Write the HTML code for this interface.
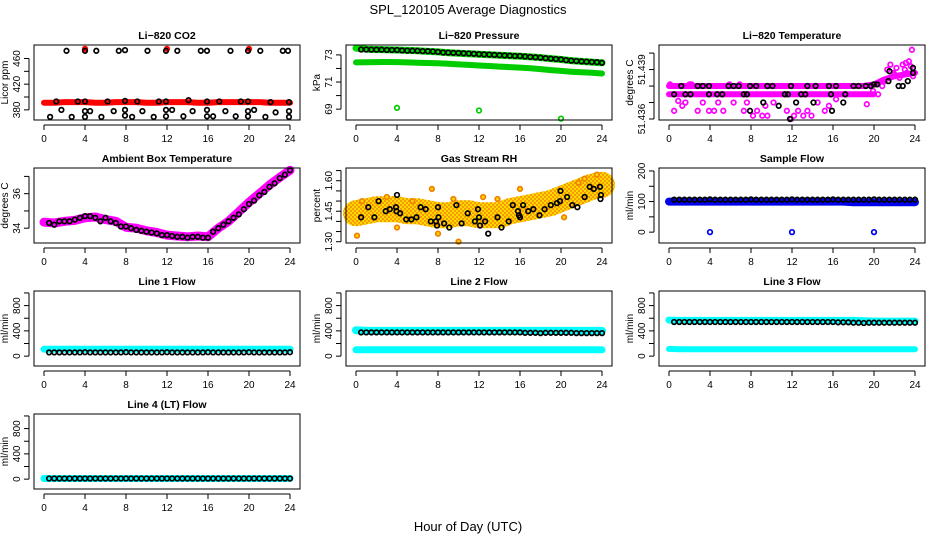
<!DOCTYPE html>
<html><head><meta charset="utf-8">
<style>
html,body{margin:0;padding:0;background:#fff;}
svg{display:block;font-family:"Liberation Sans",sans-serif;}
</style></head>
<body>
<svg id="chart" width="936" height="540" viewBox="0 0 936 540" xmlns="http://www.w3.org/2000/svg">
<defs>
<pattern id="rhpat" width="4" height="4" patternUnits="userSpaceOnUse">
<rect width="4" height="4" fill="#ffd800"/><circle cx="1" cy="1" r="0.9" fill="#f07000"/><circle cx="3" cy="3" r="0.9" fill="#f07000"/>
</pattern>
</defs>
<text x="468" y="14" font-size="13" text-anchor="middle">SPL_120105  Average Diagnostics</text>
<text x="468" y="531" font-size="13" text-anchor="middle">Hour of Day (UTC)</text>
</svg>
<script>
const hourT=[0,1,2,3,4,5,6,7,8,9,10,11,12,13,14,15,16,17,18,19,20,21,22,23,24];
const halfT=[0.5,1,1.5,2,2.5,3,3.5,4,4.5,5,5.5,6,6.5,7,7.5,8,8.5,9,9.5,10,10.5,11,11.5,12,12.5,13,13.5,14,14.5,15,15.5,16,16.5,17,17.5,18,18.5,19,19.5,20,20.5,21,21.5,22,22.5,23,23.5,24];
const xTicks=[0,4,8,12,16,20,24];

// CO2
const co2Band=[391,391,392,392,392,391,391,392,392,392,391,391,392,392,392,391,391,392,392,392,392,392,391,391,391];
const co2RedT=[4,12,20];
const co2RedV=[475,475,475];
const co2BlkT=[2.2,4,5.1,7.3,7.9,10.1,11.9,13,15.3,15.9,18.2,19.9,21.1,23.3,23.8,
1.2,3.3,4,6.2,7.9,9.1,11.2,11.9,14.1,15.9,17.1,19.2,19.9,22.1,23.9,
1.7,4,4.5,6.8,7.9,9.6,11.9,12.5,14.5,15.9,17.7,19.9,20.5,22.6,23.9,
0.6,2.7,4,5.6,7.9,8.6,10.7,11.9,13.6,15.9,16.5,18.7,19.9,21.6,23.9];
const co2BlkV=[472,472,472,472,473,472,472,472,472,472,472,472,472,472,472,
393,393,393,393,394,393,393,393,395,393,393,393,393,392,392,
380,378,378,378,380,378,380,380,378,380,378,378,380,376,378,
369,369,369,369,371,369,369,370,370,370,370,370,370,369,369];

// Pressure
const presGreenUp=[73.5,73.42,73.40,73.38,73.36,73.33,73.30,73.26,73.22,73.16,73.12,73.09,73.05,73.01,72.97,72.93,72.90,72.85,72.80,72.73,72.66,72.58,72.52,72.47,72.42];
const presGreenLow=[72.45,72.46,72.47,72.48,72.47,72.45,72.42,72.40,72.38,72.35,72.30,72.26,72.22,72.18,72.14,72.10,72.06,72.02,71.95,71.88,71.82,71.76,71.72,71.68,71.63];
const presBlk=[73.40,73.40,73.39,73.38,73.38,73.37,73.36,73.36,73.33,73.32,73.31,73.30,73.28,73.27,73.25,73.22,73.18,73.17,73.15,73.14,73.12,73.10,73.08,73.06,73.04,73.02,73.00,72.98,72.96,72.94,72.92,72.92,72.88,72.85,72.82,72.80,72.76,72.73,72.70,72.67,72.62,72.58,72.55,72.52,72.50,72.48,72.46,72.42];
const presOutT=[4,12,20];
const presOutV=[69.1,68.9,68.3];

// Li-820 temperature
const tempBand1=[51.438,51.438,51.438,51.438,51.438,51.438,51.438,51.438,51.438,51.438,51.438,51.438,51.438,51.438,51.438,51.438,51.438,51.438,51.438,51.438,51.4381,51.4384,51.4386,51.4387,51.4388];
const tempBand2T=[0,2,4,6,8,10,12,14,16,18,20];
const tempBand2V=[51.4375,51.4375,51.4375,51.4375,51.4375,51.4375,51.4375,51.4375,51.4375,51.4375,51.4375];
const tempMagT=[0.1,0.5,0.9,1.3,1.6,2.0,2.2,2.8,3.3,3.9,4.4,4.8,5.3,5.9,6.3,6.9,7.3,7.6,8.2,8.6,9.1,9.4,9.6,10.2,11.5,11.9,12.2,12.6,13.1,13.5,13.9,14.5,15.2,15.6,16.3,17.2,19.3,19.9,20.4,21.0,21.3,21.6,21.9,22.2,22.5,22.8,23.0,23.2,23.4,23.6,23.7,23.8,20.8,22.0,23.1];
const tempMagV=[51.4381,51.4365,51.4371,51.4368,51.4370,51.4381,51.4381,51.4365,51.4370,51.4365,51.4365,51.4370,51.4365,51.4381,51.4370,51.4381,51.4365,51.4370,51.4362,51.4365,51.4362,51.4368,51.4362,51.4370,51.4365,51.4360,51.4362,51.4365,51.4362,51.4365,51.4362,51.4370,51.4365,51.4368,51.4372,51.4375,51.4369,51.4377,51.4375,51.4383,51.4390,51.4393,51.4388,51.4391,51.4385,51.4393,51.4390,51.4388,51.4395,51.4392,51.4402,51.4386,51.4380,51.4387,51.4394];
const tempBlkT=[1.2,2.8,3.3,3.9,5.8,6.3,6.8,7.9,8.5,9.6,10.1,11.9,13.5,14.3,15.6,16.3,18.0,18.5,19.2,19.7,20.3,21.4,22.4,22.8,23.8,0.5,1.6,2.1,3.9,4.7,5.2,7.3,7.6,11.3,11.6,12.9,13.3,15.8,17.2,9.2,12.4,14.1,17.0,7.9,15.9,10.7,11.8,21.5,23.3,23.8,20.0];
const tempBlkV=[51.438,51.438,51.438,51.438,51.438,51.438,51.438,51.438,51.438,51.438,51.438,51.438,51.438,51.438,51.438,51.438,51.438,51.438,51.438,51.438,51.4381,51.4383,51.438,51.438,51.4388,51.4375,51.4375,51.4375,51.4375,51.4375,51.4375,51.4375,51.4375,51.4375,51.4375,51.4375,51.4375,51.4375,51.4375,51.437,51.437,51.437,51.437,51.4365,51.4365,51.4368,51.4360,51.4389,51.4383,51.4391,51.4381];

// Ambient box temperature
const ambBand=[34.35,34.3,34.4,34.45,34.6,34.65,34.5,34.4,34.05,34.0,33.85,33.75,33.6,33.55,33.5,33.55,33.5,34.0,34.4,34.95,35.5,36.0,36.5,36.95,37.35];
const ambBlk=[34.3,34.2,34.4,34.4,34.4,34.5,34.6,34.7,34.7,34.6,34.4,34.6,34.4,34.3,34.1,34.1,34.0,33.9,33.85,33.8,33.75,33.7,33.6,33.6,33.55,33.5,33.5,33.45,33.5,33.5,33.45,33.45,33.8,34.0,34.2,34.4,34.6,34.8,35.1,35.4,35.6,35.9,36.1,36.4,36.6,36.9,37.1,37.35];

// Gas stream RH
const rhBand=[1.44,1.45,1.46,1.46,1.46,1.45,1.45,1.44,1.43,1.43,1.44,1.44,1.43,1.43,1.43,1.45,1.46,1.47,1.48,1.49,1.51,1.53,1.55,1.57,1.58];
const rhOrgT=[0.1,4.0,7.4,8.0,10.0,12.4,16.0,20.3,21.7,22.3,23.5,0.6,3.0,5.5,9.5,13.8];
const rhOrgV=[1.33,1.37,1.56,1.34,1.30,1.52,1.56,1.42,1.59,1.61,1.63,1.50,1.52,1.50,1.51,1.51];
const rhBlkT=[0.5,1.2,1.8,2.2,2.9,3.3,3.9,4.0,3.95,4.3,4.9,5.4,5.9,6.3,6.8,7.3,7.8,8.0,8.05,7.9,8.6,9.1,9.8,10.3,10.9,11.6,11.9,12.0,12.1,12.6,12.9,13.8,14.2,14.9,15.3,15.8,15.9,16.0,16.3,16.8,17.3,17.9,18.4,19.0,19.6,19.9,19.95,20.6,21.1,21.6,22.3,22.8,23.2,23.8,23.85,23.9];
const rhBlkV=[1.42,1.47,1.42,1.50,1.45,1.46,1.47,1.53,1.45,1.44,1.41,1.41,1.42,1.47,1.46,1.40,1.40,1.47,1.42,1.38,1.39,1.37,1.48,1.39,1.44,1.40,1.46,1.42,1.38,1.40,1.34,1.42,1.37,1.40,1.48,1.45,1.43,1.42,1.48,1.45,1.46,1.43,1.46,1.48,1.49,1.50,1.55,1.52,1.48,1.47,1.52,1.57,1.56,1.57,1.51,1.53];

// Sample flow
const sfBand=[100,100,100,100,100,100,100,100,100,100,100,100,100,100,100,100,100,100,98,98,98,98,98,98,98];
const sfOutT=[4,12,20];
const sfOutV=[0,0,0];
const sfBlk=[106,106,106,106,106,106,106,107,106,106,106,106,106,106,106,107,106,106,106,106,106,106,106,107,106,106,106,106,106,106,106,107,106,106,106,106,106,106,106,107,106,106,106,106,106,106,106,106];

// Line flows
const l1Cyan=[110,110,110,110,110,110,110,110,110,110,110,110,110,110,110,110,110,110,110,110,110,110,110,110,110];
const l1Blk=[60,60,60,60,60,60,60,62,60,60,60,60,60,60,60,62,60,60,60,60,60,60,60,62,60,60,60,60,60,60,60,62,60,60,60,60,60,60,60,62,60,60,60,60,60,60,60,62];
const l2CyanUp=[410,400,400,400,400,400,400,400,400,400,400,400,400,400,400,400,400,400,400,400,400,400,400,400,400];
const l2CyanLow=[100,100,100,100,100,100,100,100,100,100,100,100,100,100,100,100,100,100,100,100,100,100,100,100,100];
const l2Blk=[375,375,375,375,375,375,375,375,375,375,375,375,375,375,375,375,375,375,375,375,375,375,375,375,375,375,375,375,375,375,375,375,370,370,370,365,370,370,370,370,370,370,365,365,365,365,365,365];
const l3CyanUp=[570,565,565,565,565,565,565,565,565,565,565,565,565,565,565,565,565,565,565,560,555,555,555,555,555];
const l3CyanLow=[115,110,110,110,110,110,110,110,110,110,110,110,110,110,110,110,110,110,110,110,110,110,110,110,110];
const l3Blk=[540,540,540,540,540,540,540,540,540,540,540,540,540,540,540,540,540,540,540,540,540,540,540,540,540,540,540,540,540,540,540,540,535,535,535,530,530,525,530,530,530,530,530,530,530,530,530,530];
const l4Cyan=[10,10,10,10,10,10,10,10,10,10,10,10,10,10,10,10,10,10,10,10,10,10,10,10,10];
const l4Blk=[10,10,10,10,10,10,10,10,10,10,10,10,10,10,10,10,10,10,10,10,10,10,10,10,10,10,10,10,10,10,10,10,10,10,10,10,10,10,10,10,10,10,10,10,10,10,10,10];

const flowTicks=[0,200,400,600,800,1000];
const flowLabels=[0,400,800];

const svg=document.getElementById('chart');
const NS='http://www.w3.org/2000/svg';
const COLS=[34,346,659], BW=266, BH=75;
function mk(tag,attrs,parent){const e=document.createElementNS(NS,tag);for(const k in attrs)e.setAttribute(k,attrs[k]);(parent||svg).appendChild(e);return e;}

const panels=[
 {name:'co2',title:'Li\u2212820 CO2',c:0,r:0,y0:364.2,y1:481,ylab:'Licor ppm',ticks:[380,400,420,440,460],labels:[380,420,460],fmt:v=>String(v),series:[
  {k:'band',t:hourT,v:co2Band,col:'#ff0000',w:6},
  {k:'pts',t:co2RedT,v:co2RedV,col:'#ff0000',fill:'#ff0000'},
  {k:'pts',t:co2BlkT,v:co2BlkV,col:'#000'}]},
 {name:'pressure',title:'Li\u2212820 Pressure',c:1,r:0,y0:68.2,y1:73.73,ylab:'kPa',ticks:[69,70,71,72,73],labels:[69,71,73],fmt:v=>String(v),series:[
  {k:'band',t:hourT,v:presGreenUp,col:'#00dd00',w:7},
  {k:'band',t:hourT,v:presGreenLow,col:'#00cc00',w:6},
  {k:'pts',t:halfT,v:presBlk,col:'#000'},
  {k:'pts',t:presOutT,v:presOutV,col:'#00cc00'}]},
 {name:'li820-temp',title:'Li\u2212820 Temperature',c:2,r:0,y0:51.43594,y1:51.44049,ylab:'degrees C',ticks:[51.436,51.437,51.438,51.439,51.440],labels:[51.436,51.439],fmt:v=>v.toFixed(3),series:[
  {k:'band',t:hourT,v:tempBand1,col:'#ff00ff',w:6},
  {k:'band',t:tempBand2T,v:tempBand2V,col:'#ff00ff',w:6},
  {k:'pts',t:tempMagT,v:tempMagV,col:'#ff00ff'},
  {k:'pts',t:tempBlkT,v:tempBlkV,col:'#000'}]},
 {name:'ambient-temp',title:'Ambient Box Temperature',c:0,r:1,y0:33.143,y1:37.486,ylab:'degrees C',ticks:[34,35,36,37],labels:[34,36],fmt:v=>String(v),series:[
  {k:'band',t:hourT,v:ambBand,col:'#ff00ff',w:9},
  {k:'pts',t:halfT,v:ambBlk,col:'#000'}]},
 {name:'gas-rh',title:'Gas Stream RH',c:1,r:1,y0:1.2937,y1:1.6626,ylab:'percent',ticks:[1.30,1.35,1.40,1.45,1.50,1.55,1.60,1.65],labels:[1.30,1.45,1.60],fmt:v=>v.toFixed(2),series:[
  {k:'band',t:hourT,v:rhBand,col:'url(#rhpat)',w:26},
  {k:'pts',t:rhOrgT,v:rhOrgV,col:'#f08000',fill:'#ffd800'},
  {k:'pts',t:rhBlkT,v:rhBlkV,col:'#000'}]},
 {name:'sample-flow',title:'Sample Flow',c:2,r:1,y0:-35.5,y1:209.7,ylab:'ml/min',ticks:[0,50,100,150,200],labels:[0,100,200],fmt:v=>String(v),series:[
  {k:'band',t:hourT,v:sfBand,col:'#0000ee',w:8},
  {k:'pts',t:sfOutT,v:sfOutV,col:'#0000ee'},
  {k:'pts',t:halfT,v:sfBlk,col:'#000'}]},
 {name:'line1-flow',title:'Line 1 Flow',c:0,r:2,y0:-156,y1:1031,ylab:'ml/min',ticks:flowTicks,labels:flowLabels,fmt:v=>String(v),series:[
  {k:'band',t:hourT,v:l1Cyan,col:'#00ffff',w:7},
  {k:'pts',t:halfT,v:l1Blk,col:'#000'}]},
 {name:'line2-flow',title:'Line 2 Flow',c:1,r:2,y0:-156,y1:1031,ylab:'ml/min',ticks:flowTicks,labels:flowLabels,fmt:v=>String(v),series:[
  {k:'band',t:hourT,v:l2CyanUp,col:'#00ffff',w:8},
  {k:'band',t:hourT,v:l2CyanLow,col:'#00ffff',w:7},
  {k:'pts',t:halfT,v:l2Blk,col:'#000'}]},
 {name:'line3-flow',title:'Line 3 Flow',c:2,r:2,y0:-156,y1:1031,ylab:'ml/min',ticks:flowTicks,labels:flowLabels,fmt:v=>String(v),series:[
  {k:'band',t:hourT,v:l3CyanUp,col:'#00ffff',w:7},
  {k:'band',t:hourT,v:l3CyanLow,col:'#00ffff',w:6},
  {k:'pts',t:halfT,v:l3Blk,col:'#000'}]},
 {name:'line4-flow',title:'Line 4 (LT) Flow',c:0,r:3,y0:-156,y1:1031,ylab:'ml/min',ticks:flowTicks,labels:flowLabels,fmt:v=>String(v),series:[
  {k:'band',t:hourT,v:l4Cyan,col:'#00ffff',w:7},
  {k:'pts',t:halfT,v:l4Blk,col:'#000'}]}
];

panels.forEach(p=>{
 const left=COLS[p.c], top=45+123*p.r, bottom=top+BH, right=left+BW;
 const X=t=>left+10+t*(246/24);
 const Y=v=>bottom-(v-p.y0)/(p.y1-p.y0)*BH;
 const g=mk('g',{});
 
 
 const tt=mk('text',{x:(left+right)/2,y:top-6,'font-size':10.5,'font-weight':'bold','text-anchor':'middle'},g);
 tt.textContent=p.title;
 
 
 p.series.forEach((s,si)=>{
  if(s.k==='band'){
   const pts=s.t.map((t,i)=>X(t).toFixed(1)+','+Y(s.v[i]).toFixed(1)).join(' ');
   const pl=mk('polyline',{points:pts,fill:'none',stroke:s.col,'stroke-width':s.w,'stroke-linecap':'round','stroke-linejoin':'round'},g);
   
   
  } else {
   s.t.forEach((t,i)=>{
    const c=mk('circle',{cx:X(t).toFixed(1),cy:Y(s.v[i]).toFixed(1),r:2.3,fill:s.fill||'none',stroke:s.col,'stroke-width':1.7},g);
    
    
   });
  }
 });
 const box=mk('rect',{x:left,y:top,width:BW,height:BH,fill:'none',stroke:'#000','stroke-width':1},g);
 
 
 const xa=mk('g',{},g);
 
 
 mk('line',{x1:X(0),x2:X(24),y1:bottom+5,y2:bottom+5,stroke:'#000'},xa);
 xTicks.forEach(t=>{
  mk('line',{x1:X(t),x2:X(t),y1:bottom+5,y2:bottom+10,stroke:'#000'},xa);
  const l=mk('text',{x:X(t),y:bottom+22,'font-size':10,'text-anchor':'middle'},xa);
  l.textContent=t;
  
  
 });
 const ya=mk('g',{},g);
 
 
 const tk=p.ticks.filter(v=>v>=p.y0&&v<=p.y1+1e-9);
 mk('line',{x1:left-5,x2:left-5,y1:Y(tk[0]),y2:Y(tk[tk.length-1]),stroke:'#000'},ya);
 tk.forEach(v=>{mk('line',{x1:left-10,x2:left-5,y1:Y(v),y2:Y(v),stroke:'#000'},ya);});
 p.labels.forEach(v=>{
  const yy=Y(v);
  const l=mk('text',{x:left-14,y:yy,'font-size':10,'text-anchor':'middle',transform:'rotate(-90 '+(left-14)+' '+yy+')'},ya);
  l.textContent=p.fmt(v);
  
  
 });
 const yt=mk('text',{x:left-26,y:(top+bottom)/2,'font-size':10,'text-anchor':'middle',transform:'rotate(-90 '+(left-26)+' '+((top+bottom)/2)+')'},g);
 yt.textContent=p.ylab;
 
 
});
</script>
</body></html>
